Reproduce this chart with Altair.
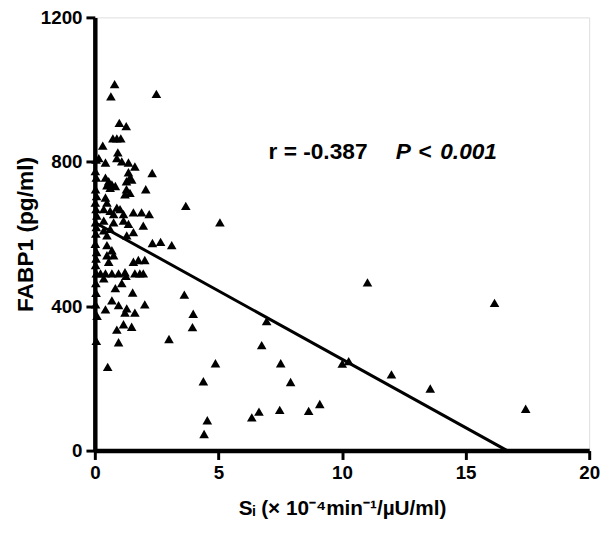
import altair as alt
import pandas as pd

# Scatter points: Si (x 10^-4 min^-1 / uU/ml) vs FABP1 (pg/ml)
si = [
    # outlying points
    2.49, 3.68, 5.06, 2.33, 2.66, 3.11, 3.62, 3.98, 3.95, 3.00,
    4.88, 4.39, 4.55, 4.42, 6.75, 6.95, 7.52, 7.92, 6.35, 6.64,
    7.48, 8.65, 9.10, 10.01, 10.27, 11.03, 12.00, 13.57, 16.17, 17.43,
    2.32, 2.20, 2.06, 2.02, 2.02, 1.96, 1.96,
    # dense cluster
    0.80, 0.65, 0.99, 1.27, 0.73, 0.89, 1.05, 0.32, 0.93, 0.16,
    0.43, 0.89, 1.09, 1.36, 1.62, 1.36, 1.42, 0.43, 0.56, 0.69,
    0.83, 0.49, 0.62, 1.28, 1.49, 1.28, 1.22, 1.42, 0.43, 0.49,
    0.36, 0.62, 0.89, 1.02, 0.76, 1.16, 1.56, 1.89, 0.36, 0.76,
    1.16, 1.36, 1.56, 1.29, 0.62, 0.36, 0.49, 0.49, 0.69, 0.49,
    0.76, 0.56, 1.56, 1.76, 0.23, 0.43, 0.69, 0.96, 1.22, 1.26,
    1.62, 1.82, 0.36, 1.09, 0.83, 1.53, 0.69, 0.96, 1.29, 0.43,
    1.22, 1.62, 1.16, 1.49, 0.89, 0.96, 0.52,
    # points on / next to the y axis
    0.05, 0.02, 0.06, 0.03, 0.07, 0.02, 0.05, 0.08, 0.03, 0.06,
    0.04, 0.02, 0.07, 0.05, 0.03, 0.06, 0.04, 0.05, 0.03, 0.09,
    0.06,
]
fabp1 = [
    988, 678, 632, 575, 578, 569, 432, 379, 342, 309,
    242, 192, 84, 46, 292, 359, 242, 190, 92, 108,
    113, 110, 129, 241, 248, 466, 211, 172, 409, 116,
    769, 655, 724, 528, 405, 491, 623,
    1015, 981, 908, 899, 865, 865, 865, 845, 826, 810,
    798, 810, 801, 798, 787, 771, 756, 756, 746, 737,
    733, 735, 728, 746, 751, 724, 710, 714, 701, 687,
    669, 664, 673, 669, 655, 655, 660, 660, 637, 632,
    637, 628, 605, 596, 614, 610, 596, 569, 555, 541,
    541, 523, 523, 528, 491, 491, 491, 491, 494, 484,
    491, 491, 477, 464, 450, 438, 416, 403, 394, 391,
    382, 382, 350, 343, 335, 300, 232,
    806, 774, 756, 724, 705, 687, 669, 651, 632, 619,
    601, 573, 550, 532, 514, 491, 464, 437, 405, 373,
    304,
]

# Regression line end points
line_si = [0.0, 16.68]
line_fabp1 = [632, 0]

x_ticks = [0, 5, 10, 15, 20]
y_ticks = [0, 400, 800, 1200]

FONT = "Liberation Sans"

pts = pd.DataFrame({"si": si, "fabp1": fabp1})
ln = pd.DataFrame({"si": line_si, "fabp1": line_fabp1})

xscale = alt.Scale(domain=[0, 20], nice=False, zero=False)
yscale = alt.Scale(domain=[0, 1200], nice=False)

common_axis = dict(
    grid=False,
    domainColor="black",
    domainWidth=4.5,
    tickColor="black",
    tickWidth=3,
    tickSize=9,
    labelFont=FONT,
    labelFontSize=19,
    labelFontWeight="bold",
    labelColor="black",
    labelFlush=False,
    labelOverlap=False,
    titleFont=FONT,
    titleFontWeight="bold",
    titleColor="black",
    format="d",
)

xaxis = alt.Axis(values=x_ticks, title="Sᵢ (× 10⁻⁴min⁻¹/µU/ml)",
                 labelPadding=4, titleFontSize=21, titlePadding=16, **common_axis)
yaxis = alt.Axis(values=y_ticks, title="FABP1 (pg/ml)",
                 labelPadding=4, titleFontSize=23, titlePadding=3, **common_axis)

points = alt.Chart(pts).mark_point(
    shape="triangle-up", filled=True, color="black", opacity=1, size=95
).encode(
    x=alt.X("si:Q", scale=xscale, axis=xaxis),
    y=alt.Y("fabp1:Q", scale=yscale, axis=yaxis),
)

line = alt.Chart(ln).mark_line(color="black", strokeWidth=3).encode(
    x=alt.X("si:Q", scale=xscale),
    y=alt.Y("fabp1:Q", scale=yscale),
)

def label(txt, xpx, style):
    return alt.Chart(pd.DataFrame({"t": [txt]})).mark_text(
        font=FONT, fontSize=23, fontWeight="bold", fontStyle=style,
        align="left", baseline="alphabetic", color="black"
    ).encode(text="t:N", x=alt.value(xpx), y=alt.value(143))

ann = (label("r = -0.387", 176, "normal")
       + label("P", 305, "italic")
       + label("<", 328, "normal")
       + label("0.001", 350, "italic"))

chart = (points + line + ann).properties(
    width=501, height=439,
    autosize=alt.AutoSizeParams(type="none"),
    padding={"left": 88, "top": 6, "right": 16, "bottom": 80},
).configure_view(stroke=None).configure(background="white")

chart.save("out.html", embed_options={"renderer": "svg", "actions": False})
